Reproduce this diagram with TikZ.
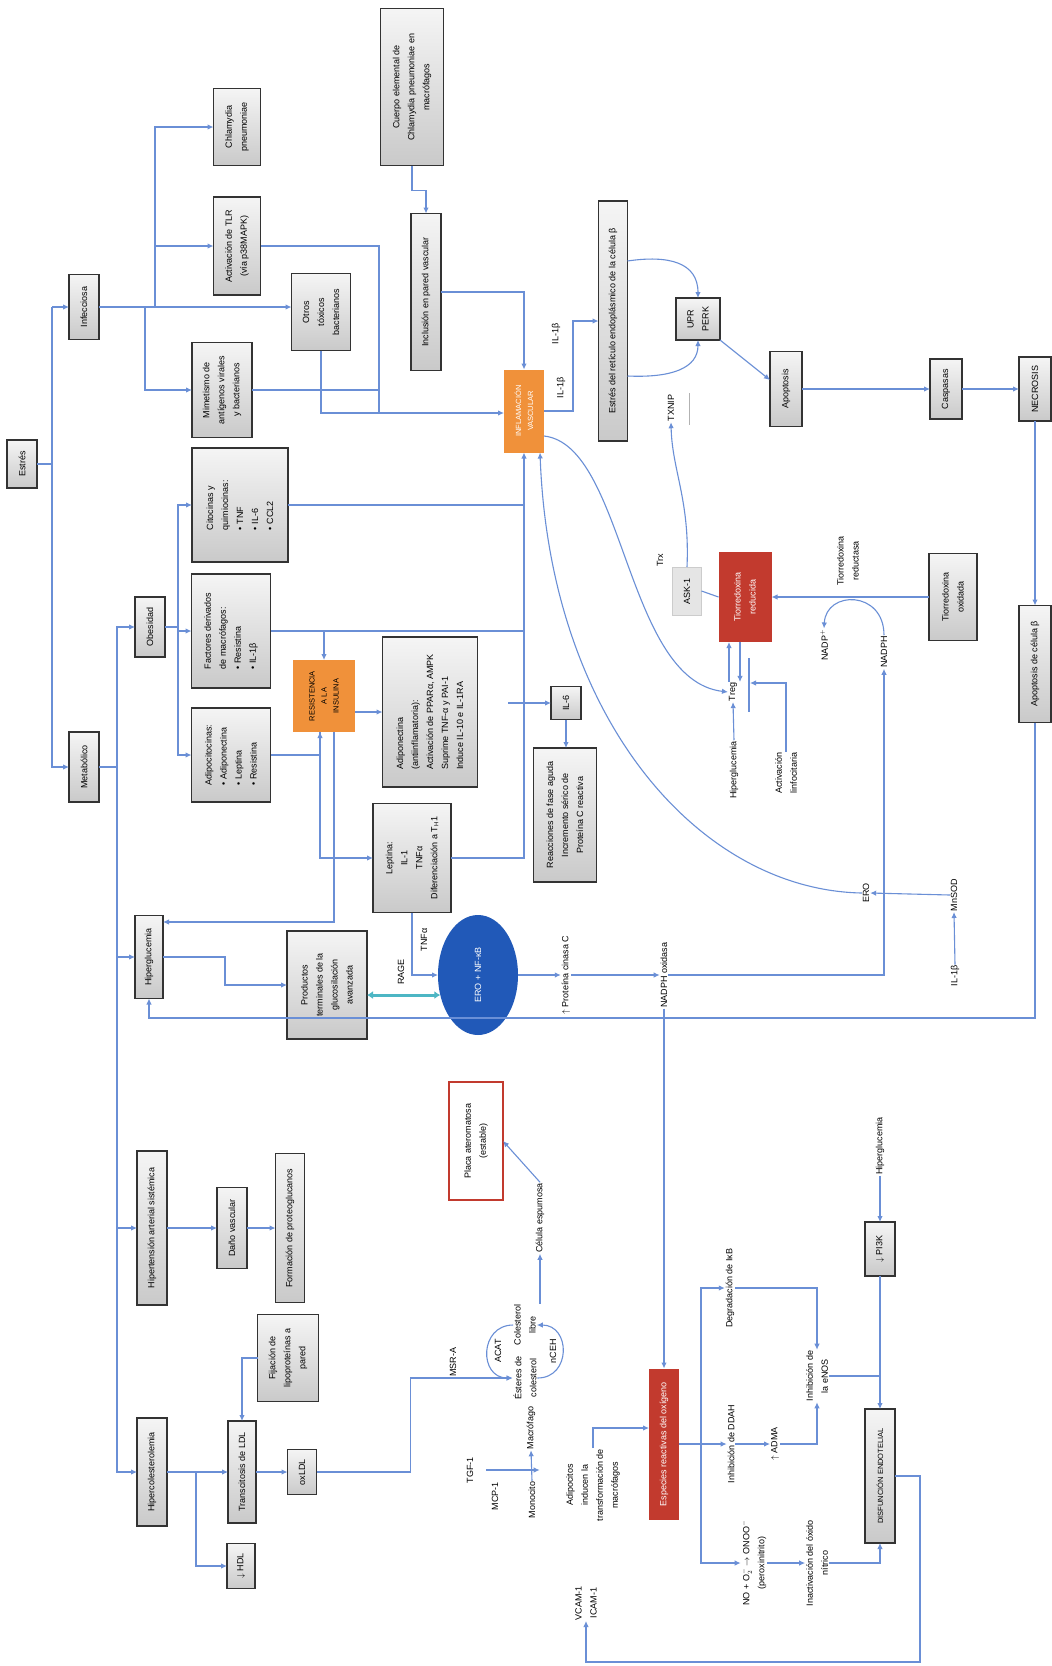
\documentclass[tikz,border=0pt]{standalone}
\usepackage{fontspec}
\setmainfont{Liberation Sans}
\usetikzlibrary{arrows.meta,shapes.geometric}
\definecolor{lnk}{HTML}{6A8FD6}
\definecolor{orng}{HTML}{F0913A}
\definecolor{redbox}{HTML}{C23A2E}
\definecolor{ballblue}{HTML}{2159B8}
\definecolor{ragecol}{HTML}{4DB6C4}

\begin{document}
\begin{tikzpicture}[
      x=1pt, y=-1pt, % coordenadas en pixeles, y hacia abajo
      every node/.style={rotate=90, align=center, inner sep=1pt, outer sep=0pt, font=\fontsize{9}{15}\selectfont},
      box/.style={draw=black!80, line width=1.1pt, top color=gray!8, bottom color=gray!42},
      obox/.style={fill=orng, font=\fontsize{7.5}{12}\selectfont},
      rbox/.style={fill=redbox, text=white},
      sz/.style 2 args={minimum height=#1pt, minimum width=#2pt}, % ancho, alto en la pagina
      ln/.style={draw=lnk, line width=1.1pt},
      arr/.style={ln, -{Latex[length=6pt,width=5.5pt]}},
      rage/.style={draw=ragecol, line width=3pt, {Latex[length=6pt,width=8pt]}-{Latex[length=6pt,width=8pt]}}
    ]
\fill[white] (0,0) rectangle (1052,1666);
\useasboundingbox (0,0) rectangle (1052,1666);

% causas
\node[box, sz={30}{48}] (estres) at (22,464) {Estrés};
\node[box, sz={30}{65}] (infecc) at (84,307) {Infecciosa};
\node[box, sz={30}{70}] (metab) at (84,767) {Metabólico};

% rama infecciosa
\node[box, sz={47}{77}] (chlam) at (237,127) {Chlamydia\\pneumoniae};
\node[box, sz={47}{98}] (activ) at (237,246) {Activación de TLR\\(vía p38MAPK)};
\node[box, sz={59}{77}] (otros) at (321,312) {Otros\\tóxicos\\bacterianos};
\node[box, sz={60}{95}] (mimet) at (222,390) {Mimetismo de\\antígenos virales\\y bacterianos};
\node[box, sz={63}{157}] (cuerpo) at (412,87) {Cuerpo elemental de\\Chlamydia pneumoniae en\\macrófagos};
\node[box, sz={30}{157}] (inclus) at (426,292) {Inclusión en pared vascular};
\node[obox, text=white, sz={40}{83}] (inflam) at (524,411) {INFLAMACIÓN\\VASCULAR};
\node[box, sz={29}{240}] (retic) at (613,321) {Estrés del retículo endoplásmico de la célula β};
\node[box, sz={44}{42}] (upr) at (698,319) {UPR\\PERK};
\node[box, sz={32}{75}] (apop) at (786,389) {Apoptosis};
\node[box, sz={32}{60}] (casp) at (946,389) {Caspasas};
\node[box, sz={32}{64}] (necro) at (1035,389) {NECROSIS};
\node[box, sz={32}{117}] (apopb) at (1035,664) {Apoptosis de célula β};

% rama metabolica
\node[box, sz={30}{60}] (obes) at (150,627) {Obesidad};
\node[box, sz={96}{114}, align=left] (citoc) at (240,505) {Citocinas y\\quimiocinas:\\• TNF\\• IL-6\\• CCL2};
\node[box, sz={79}{114}, align=left] (factor) at (231,631) {Factores derivados\\de macrófagos:\\• Resistina\\• IL-1β};
\node[box, sz={79}{94}, align=left] (adipo) at (231,755) {Adipocitocinas:\\• Adiponectina\\• Leptina\\• Resistina};
\node[obox, sz={62}{72}] (resist) at (324,696) {RESISTENCIA\\A LA\\INSULINA};
\node[box, sz={95}{150}, align=left] (adipon) at (430,712) {Adiponectina\\(antiinflamatoria):\\Activación de PPARα, AMPK\\Suprime TNF-α y PAI-1\\Induce IL-10 e IL-1RA};
\node[box, sz={78}{109}] (leptina) at (412,858) {Leptina:\\IL-1\\TNFα\\Diferenciación a T$_{\mathrm{H}}$1};
\node[box, sz={30}{33}] (il6) at (566,703) {IL-6};
\node[box, sz={63}{134}] (reacc) at (565,815) {Reacciones de fase aguda\\Incremento sérico de\\Proteína C reactiva};
\node[box, sz={28}{83}] (hiperg) at (149,957) {Hiperglucemia};
\node[box, sz={80}{108}] (produc) at (327,985) {Productos\\terminales de la\\glucosilación\\avanzada};
\node[ellipse, fill=ballblue, text=white, sz={80}{120}] (ercirc) at (478,975) {ERO + NF-κB};
\node[box, sz={30}{154}] (hta) at (152,1228) {Hipertensión arterial sistémica};
\node[box, sz={30}{81}] (dano) at (232,1228) {Daño vascular};
\node[box, sz={29}{149}] (protg) at (290,1228) {Formación de proteoglucanos};
\node[box, sz={30}{108}] (hcol) at (152,1472) {Hipercolesterolemia};
\node[box, sz={28}{102}] (transc) at (242,1472) {Transcitosis de LDL};
\node[box, sz={61}{87}] (fijac) at (288,1358) {Fijación de\\lipoproteínas a\\pared};
\node[box, sz={28}{45}] (hdl) at (241,1566) {$\downarrow$ HDL};
\node[box, sz={29}{45}] (oxldl) at (302,1472) {oxLDL};
\node[draw=redbox, line width=1.3pt, fill=white, sz={54}{118}] (placa) at (476,1141) {Placa ateromatosa\\(estable)};
\node[rbox, sz={30}{151}] (especies) at (664,1444) {Especies reactivas del oxígeno};
\node[box, sz={30}{54}] (pi3k) at (880,1249) {$\downarrow$ PI3K};
\node[box, sz={30}{134}, font=\fontsize{7.5}{9}\selectfont] (disf) at (880,1476) {DISFUNCIÓN ENDOTELIAL};

% ciclo de la tiorredoxina
\node[rbox, sz={53}{90}] (tiored) at (745,597) {Tiorredoxina\\reducida};
\node[box, sz={48}{87}] (tioox) at (953,597) {Tiorredoxina\\oxidada};
\node[draw=gray!40, fill=gray!20, sz={29}{48}] (ask1) at (687,591) {ASK-1};

% etiquetas sueltas
\node (il1ba) at (556,334) {IL-1β};
\node (il1bb) at (561,388) {IL-1β};
\node (txnip) at (671,408) {TXNIP};
\node (trx) at (660,560) {Trx};
\node (treg) at (733,692) {Treg};
\node (hipgl2) at (734,770) {Hiperglucemia};
\node (activl) at (786,773) {Activación\\linfocitaria};
\node (nadp) at (824,645) {NADP$^+$};
\node (nadph) at (884,652) {NADPH};
\node (tredx) at (848,561) {Tiorredoxina\\reductasa};
\node (ero) at (866,893) {ERO};
\node (mnsod) at (954,895) {MnSOD};
\node (il1bc) at (955,976) {IL-1β};
\node (tnfa) at (424,940) {TNFα};
\node (ragel) at (401,972) {RAGE};
\node (pkc) at (566,975) {$\uparrow$ Proteína cinasa C};
\node (nadpho) at (664,975) {NADPH oxidasa};
\node (espum) at (540,1218) {Célula espumosa};
\node (msra) at (453,1362) {MSR-A};
\node (colib) at (525,1325) {Colesterol\\libre};
\node (ester) at (525,1378) {Ésteres de\\colesterol};
\node (acat) at (498,1351) {ACAT};
\node (nceh) at (553,1351) {nCEH};
\node (macro) at (531,1428) {Macrófago};
\node (monoc) at (532,1500) {Monocito};
\node (tgf) at (470,1470) {TGF-1};
\node (mcp) at (495,1496) {MCP-1};
\node (adipotx) at (593,1485) {Adipocitos\\inducen la\\transformación de\\macrófagos};
\node (degr) at (730,1288) {Degradación de IκB};
\node (ddah) at (731,1444) {Inhibición de DDAH};
\node (adma) at (775,1444) {$\uparrow$ ADMA};
\node (enos) at (817,1376) {Inhibición de\\la eNOS};
\node (peroxi) at (754,1563) {NO + O$_2^-$ $\rightarrow$ ONOO$^-$\\(peroxinitrito)};
\node (inact) at (817,1563) {Inactivación del óxido\\nítrico};
\node (hipgl3) at (880,1146) {Hiperglucemia};
\node (vcam) at (586,1603) {VCAM-1\\ICAM-1};

% puntos de union
\coordinate (tk) at (52,307);
\coordinate (ia1) at (145,307);
\coordinate (ia2) at (155,307);
\coordinate (ib) at (379,413);
\coordinate (mb) at (117,767);
\coordinate (ob) at (178,627);
\coordinate (il6in) at (508,703);
\coordinate (hc) at (196,1472);
\coordinate (eb) at (701,1444);
\coordinate (bartop) at (749,658);
\coordinate (barbot) at (749,712);
\coordinate (barm) at (750,683);
\coordinate (txtop) at (689,393);
\coordinate (txbot) at (689,425);

% tronco
\draw[ln] (estres.south) -- (estres.south -| tk);
\draw[arr] (tk) -- (infecc.north);
\draw[arr] (tk) |- (metab.north);

% infecciosa
\draw[arr] (infecc.south) -- (infecc.south -| otros.north);
\draw[arr] (ia2) |- (chlam.north);
\draw[arr] (ia2) |- (activ.north);
\draw[arr] (ia1) |- (mimet.north);
\draw[ln] (activ.south) -| (ib);
\draw[ln] (mimet.south) -- (mimet.south -| ib);
\draw[ln] (otros.west) |- (ib);
\draw[arr] (ib) -- (ib -| inflam.north);
\draw[arr] (inclus.south) -| (inflam.east);
\draw[arr] (cuerpo.west) -- ++(0,25) -| (inclus.east);

% metabolico
\draw[ln] (metab.south) -- (mb);
\draw[arr] (mb) |- (obes.north);
\draw[arr] (mb) |- (hiperg.north);
\draw[arr] (mb) |- (hta.north);
\draw[arr] (mb) |- (hcol.north);
\draw[ln] (obes.south) -- (ob);
\draw[arr] (ob) |- (citoc.north);
\draw[arr] (ob) |- (factor.north);
\draw[arr] (ob) |- (adipo.north);
\draw[ln] (citoc.south) -- (citoc.south -| inflam.west);
\draw[ln] (factor.south) -- (factor.south -| inflam.west);
\draw[arr] (leptina.south) -| (inflam.west);
\draw[arr] (factor.south -| resist.east) -- (resist.east);
\draw[arr] (adipo.south) -| ([xshift=-4pt]resist.west);
\draw[arr] ([xshift=-4pt]resist.west) |- (leptina.north);
\draw[arr] ([xshift=10pt]resist.west) |- ([yshift=35pt]hiperg.south);
\draw[arr] (resist.south |- adipon.north) -- (adipon.north);
\draw[arr] (il6in) -- (il6.north);
\draw[arr] (il6.west) -- (il6.west |- reacc.east);

% glucosilacion y estres oxidativo
\draw[arr] (hiperg.south) -- ++(62,0) |- (produc.north);
\draw[arr] (leptina.west) |- (ercirc.north);
\draw[rage] (produc.south |- ercirc.118) -- (ercirc.118);
\draw[arr] (ercirc.south) -- (pkc.north);
\draw[arr] (pkc.south) -- (nadpho.north);
\draw[arr] (nadpho.south) -| (nadph.west);
\draw[arr] (nadpho.west) -- (especies.east);
\draw[arr] (apopb.west) -- (apopb.west |- 0,1018) -| (hiperg.west);

% inflamacion y celula beta
\draw[arr] (inflam.south) -- ++(29,0) |- (retic.north);
\draw[arr] ([yshift=-25pt]inflam.south) .. controls (625,445) and (625,680) .. (treg.north);
\draw[arr] (ero.north) .. controls (700,890) and (550,720) .. ([xshift=16pt]inflam.west);
\draw[arr] ([yshift=60pt]retic.south) .. controls (668,255) and (698,262) .. (upr.east);
\draw[arr] ([yshift=-55pt]retic.south) .. controls (672,378) and (698,368) .. (upr.west);
\draw[arr] (upr.south west) -- ([yshift=9pt]apop.north);
\draw[arr] (apop.south) -- (casp.north);
\draw[arr] (casp.south) -- (necro.north);
\draw[arr] (necro.west) -- (apopb.east);

% tiorredoxina
\draw[arr] (ask1.east) .. controls (690,500) and (672,470) .. (txnip.west);
\draw[draw=gray!60, line width=1pt] (txtop) -- (txbot);
\draw[ln] (ask1.south) -- (tiored.north);
\draw[arr] (treg.east -| 729,0) -- (tiored.west -| 729,0);
\draw[arr] (tiored.west -| 740,0) -- (treg.east -| 740,0);
\draw[arr] (hipgl2.east) -- (treg.west);
\draw[ln] (bartop) -- (barbot);
\draw[arr] (activl.east) |- (barm);
\draw[arr] (tioox.north) -- (tiored.south);
\draw[arr] (nadph.east) .. controls (884,590) and (826,590) .. (nadp.east);
\draw[arr] (mnsod.north) -- (ero.south);
\draw[arr] (il1bc.east) -- (mnsod.west);

% hipertension e hipercolesterolemia
\draw[arr] (hta.south) -- (dano.north);
\draw[arr] (dano.south) -- (protg.north);
\draw[ln] (hcol.south) -- (hc);
\draw[arr] (hc) -- (transc.north);
\draw[arr] (hc) |- (hdl.north);
\draw[arr] (fijac.north) -| (transc.east);
\draw[arr] (transc.south) -- (oxldl.north);
\draw[arr] (oxldl.south) -- ++(94,0) |- (ester.north);
\draw[arr] (colib.north) .. controls +(-34,0) and +(-34,0) .. (ester.north);
\draw[arr] (ester.south) .. controls +(34,0) and +(34,0) .. (colib.south);
\draw[arr] (monoc.east) -- (macro.west);
\draw[arr] ([xshift=12pt]tgf.south) -- ([xshift=12pt]tgf.south -| monoc.north);
\draw[arr] (colib.east -| espum.west) -- (espum.west);
\draw[arr] (espum.east) -- (placa.south);

% disfuncion endotelial
\draw[ln] (especies.south) -- (eb);
\draw[arr] (adipotx.east) |- ([yshift=16pt]especies.north);
\draw[arr] (eb) |- (degr.north);
\draw[arr] (eb) -- (ddah.north);
\draw[arr] (eb) |- (peroxi.north);
\draw[arr] (ddah.south) -- (adma.north);
\draw[arr] (adma.south) -| (enos.west);
\draw[arr] (degr.south) -| (enos.east);
\draw[ln] (enos.south) -- (enos.south -| disf.east);
\draw[arr] (hipgl3.west) -- (pi3k.east);
\draw[arr] (pi3k.west) -- (disf.east);
\draw[arr] (peroxi.south) -- (inact.north);
\draw[arr] (inact.south) -| (disf.west);
\draw[arr] (disf.south) -- ++(25,0) -- ++(0,186) -| (vcam.west);
\end{tikzpicture}
\end{document}
